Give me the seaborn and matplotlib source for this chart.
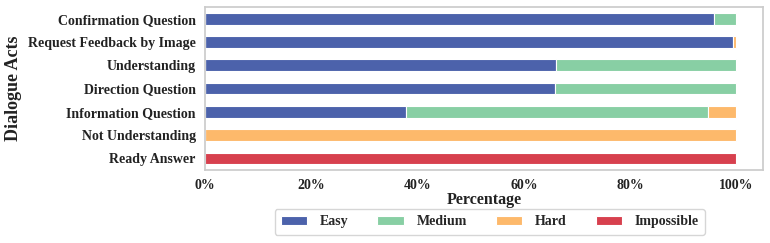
import pandas as pd
import matplotlib
matplotlib.use("Agg")
import matplotlib.pyplot as plt
import seaborn as sns
from matplotlib.ticker import PercentFormatter

# data (shares per dialogue act)
acts = ["Confirmation Question", "Request Feedback by Image", "Understanding",
        "Direction Question", "Information Question", "Not Understanding",
        "Ready Answer"]
easy = [0.958, 0.994, 0.661, 0.659, 0.379, 0.0, 0.0]
medium = [0.042, 0.0, 0.339, 0.341, 0.568, 0.0, 0.0]
hard = [0.0, 0.006, 0.0, 0.0, 0.053, 1.0, 0.0]
impossible = [0.0, 0.0, 0.0, 0.0, 0.0, 0.0, 1.0]

levels = ["Easy", "Medium", "Hard", "Impossible"]
colors = ["#4c62ab", "#88cfa4", "#fdb96b", "#d7404e"]

sns.set_theme(style="white")
plt.rcParams["font.family"] = ["Liberation Serif", "DejaVu Serif"]
plt.rcParams["font.weight"] = "bold"

df = pd.DataFrame({"Easy": easy, "Medium": medium, "Hard": hard,
                   "Impossible": impossible}, index=acts)

fig = plt.figure(figsize=(7.7, 2.43), dpi=100)
ax = fig.add_axes([0.266, 0.30, 0.725, 0.671])

df.plot(kind="barh", stacked=True, ax=ax, color=colors, width=0.5,
        edgecolor="white", linewidth=0.8, legend=False)
ax.invert_yaxis()

ax.xaxis.set_major_formatter(PercentFormatter(1.0, decimals=0))
ax.set_xticks([0, 0.2, 0.4, 0.6, 0.8, 1.0])
ax.tick_params(axis="both", labelsize=10, pad=0.6)
for lbl in ax.get_xticklabels() + ax.get_yticklabels():
    lbl.set_fontweight("bold")
    lbl.set_color("#222222")

ax.set_xlabel("Percentage", fontsize=11.5, fontweight="bold", labelpad=0,
              color="#222222")
ax.set_ylabel("Dialogue Acts", fontsize=13, fontweight="bold",
              color="#222222")
ax.yaxis.set_label_coords(-0.327, 0.5)

for s in ax.spines.values():
    s.set_color("#cccccc")

fig.legend(levels, loc="center", bbox_to_anchor=(0.636, 0.087), ncol=4,
           prop={"size": 10, "weight": "bold"}, frameon=True,
           edgecolor="#cccccc", handlelength=1.9, columnspacing=2.1,
           borderpad=0.45, handletextpad=0.9)

fig.savefig("out.png", dpi=100)
